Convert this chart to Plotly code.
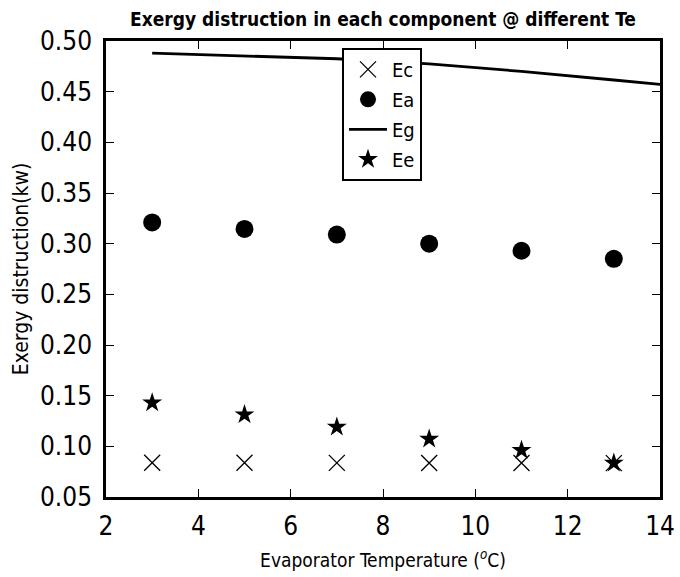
import plotly.graph_objects as go

temps = [3, 5, 7, 9, 11, 13]
eg_temps = [3, 5, 7, 9, 11, 13, 15]
Ec = [0.0838, 0.0838, 0.0837, 0.0836, 0.0835, 0.0834]
Ea = [0.321, 0.3145, 0.309, 0.300, 0.293, 0.285]
Eg = [0.488, 0.4855, 0.4825, 0.4775, 0.4700, 0.4615, 0.4530]
Ee = [0.143, 0.1313, 0.1191, 0.1072, 0.0961, 0.0836]
xticks = [2, 4, 6, 8, 10, 12, 14]
yticks = [0.05, 0.10, 0.15, 0.20, 0.25, 0.30, 0.35, 0.40, 0.45, 0.50]

FONT = "DejaVu Sans Condensed, DejaVu Sans"

fig = go.Figure()
fig.add_trace(go.Scatter(x=temps, y=Ec, mode="markers", name="Ec", legendgroup="c",
                         marker=dict(symbol="x-thin", size=16, color="black",
                                     line=dict(width=1.3, color="black"))))
fig.add_trace(go.Scatter(x=temps, y=Ea, mode="markers", name="Ea", legendgroup="a",
                         marker=dict(symbol="circle", size=18, color="black")))
fig.add_trace(go.Scatter(x=eg_temps, y=Eg, mode="lines", name="Eg", legendgroup="g",
                         line=dict(color="black", width=2.8)))
fig.add_trace(go.Scatter(x=temps, y=Ee, mode="markers", name="Ee", legendgroup="e",
                         marker=dict(symbol="star", size=15, color="black")))

axis_common = dict(showline=True, linecolor="black", linewidth=2.5, mirror="ticks",
                   ticks="inside", ticklen=8, tickwidth=1.3, tickcolor="black",
                   showgrid=False, zeroline=False,
                   tickfont=dict(family=FONT, size=26, color="black"))

fig.update_xaxes(range=[2, 14], tickvals=xticks, ticktext=[str(v) for v in xticks],
                 ticklabelstandoff=4,
                 title=dict(text="Evaporator Temperature (<sup><i>o</i></sup>C)",
                            font=dict(family=FONT, size=19, color="black"), standoff=14),
                 **axis_common)
fig.update_yaxes(range=[0.05, 0.50], tickvals=yticks, ticktext=[f"{v:.2f}" for v in yticks],
                 ticklabelstandoff=6,
                 title=dict(text="Exergy distruction(kw)",
                            font=dict(family=FONT, size=21, color="black"), standoff=6),
                 **axis_common)

fig.update_layout(
    width=680, height=577,
    margin=dict(l=106, r=20, t=41, b=80, autoexpand=False),
    paper_bgcolor="white", plot_bgcolor="white",
    title=dict(text="<b>Exergy distruction in each component @ different Te</b>",
               x=0.5, xref="paper", xanchor="center",
               y=1 - 19 / 577, yref="container", yanchor="middle",
               font=dict(family=FONT, size=19, color="black")),
    legend=dict(x=0.426, y=0.985, xanchor="left", yanchor="top",
                bgcolor="white", bordercolor="black", borderwidth=2,
                font=dict(family=FONT, size=20, color="black"),
                tracegroupgap=1, itemwidth=38),
    showlegend=True,
)

fig.write_html("out.html")
